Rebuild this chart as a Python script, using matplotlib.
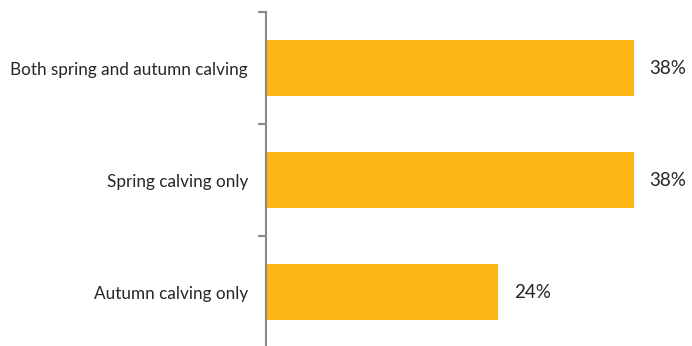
import matplotlib
matplotlib.use("Agg")
import matplotlib.pyplot as plt

# data (bottom to top)
categories = ["Autumn calving only", "Spring calving only", "Both spring and autumn calving"]
values = [24, 38, 38]

plt.rcParams['font.family'] = ['Lato', 'DejaVu Sans']

fig = plt.figure(figsize=(6.92, 3.46), dpi=100)
ax = fig.add_axes([266 / 692, -2 / 346, 426 / 692, 336 / 346])

pos = list(range(len(categories)))
bars = ax.barh(pos, values, height=0.5, color="#FBB817")

for b, v in zip(bars, values):
    ax.text(b.get_width() + 1.6, b.get_y() + b.get_height() / 2, f"{v}%",
            va="center", ha="left", fontsize=13.5, color="#262626")

ax.set_xlim(0, 44)
ax.set_ylim(-0.5, len(categories) - 0.5)

# separators as major ticks, category labels as minor ticks
ax.set_yticks([p - 0.5 for p in pos] + [len(categories) - 0.5])
ax.set_yticklabels([])
ax.set_yticks(pos, minor=True)
ax.set_yticklabels(categories, minor=True, fontsize=12.3, color="#262626")
ax.tick_params(axis="y", which="major", length=6, width=1.5, color="#898989", direction="out")
ax.tick_params(axis="y", which="minor", length=0, pad=13)

ax.set_xticks([])
for s in ["top", "right", "bottom"]:
    ax.spines[s].set_visible(False)
ax.spines["left"].set_color("#898989")
ax.spines["left"].set_linewidth(1.5)

fig.savefig("out.png", dpi=100)
